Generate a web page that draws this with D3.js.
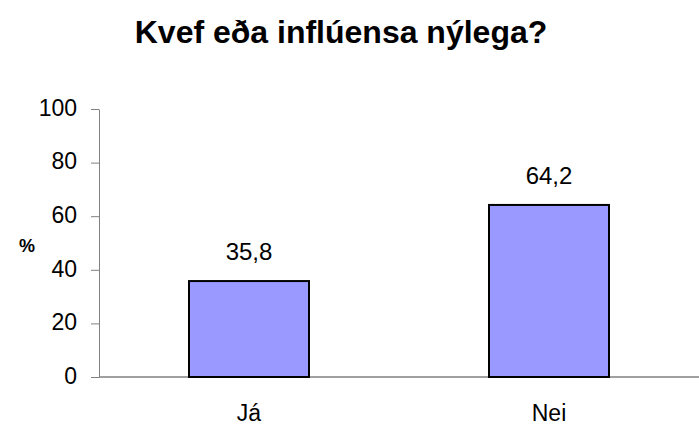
<!DOCTYPE html>
<html>
<head>
<meta charset="utf-8">
<script src="https://cdn.jsdelivr.net/npm/d3@7"></script>
<style>
  body { margin: 0; background: #fff; }
  text { font-family: "Liberation Sans", Arial, sans-serif; }
</style>
</head>
<body>
<div id="chart"></div>
<script>
// data
const categories = ["Já", "Nei"];
const values = [35.8, 64.2];
const yTicks = [0, 20, 40, 60, 80, 100];
const title = "Kvef eða inflúensa nýlega?";
const yLabel = "%";

const W = 699, H = 439;
const margin = {top: 109, right: 0, bottom: 62, left: 99};
const width = W - margin.left - margin.right;
const height = H - margin.top - margin.bottom;

const svg = d3.select("#chart").append("svg")
    .attr("width", W)
    .attr("height", H);

const g = svg.append("g")
    .attr("transform", "translate(" + margin.left + "," + margin.top + ")");

const x = d3.scaleBand()
    .domain(categories)
    .range([0, width])
    .paddingInner(0.6)
    .paddingOuter(0.3);

const y = d3.scaleLinear()
    .domain([0, 100])
    .range([height, 0]);

// title
svg.append("text")
    .attr("x", 341)
    .attr("y", 43)
    .attr("text-anchor", "middle")
    .style("font-size", "32px")
    .style("font-weight", "bold")
    .text(title);

// y axis
const yAxis = g.append("g")
    .call(d3.axisLeft(y).tickValues(yTicks).tickSize(8).tickPadding(14).tickSizeOuter(0));
yAxis.select(".domain").attr("stroke", "#808080");
yAxis.selectAll(".tick line").attr("stroke", "#808080");
yAxis.selectAll(".tick text")
    .style("font-size", "23px")
    .attr("fill", "#000")
    .attr("dy", "0.27em");

// x axis line
g.append("line")
    .attr("x1", 0).attr("x2", width)
    .attr("y1", height).attr("y2", height)
    .attr("stroke", "#808080")
    .attr("stroke-width", 1.5);

// bars
g.selectAll(".bar")
    .data(values)
    .enter().append("rect")
    .attr("class", "bar")
    .attr("x", (d, i) => x(categories[i]))
    .attr("y", d => y(d))
    .attr("width", x.bandwidth())
    .attr("height", d => height - y(d))
    .attr("fill", "#9999FF")
    .attr("stroke", "#000")
    .attr("stroke-width", 2);

// value labels
g.selectAll(".val")
    .data(values)
    .enter().append("text")
    .attr("class", "val")
    .attr("x", (d, i) => x(categories[i]) + x.bandwidth() / 2)
    .attr("y", d => y(d) - 21)
    .attr("text-anchor", "middle")
    .style("font-size", "24px")
    .text(d => d.toString().replace(".", ","));

// category labels
g.selectAll(".cat")
    .data(categories)
    .enter().append("text")
    .attr("class", "cat")
    .attr("x", d => x(d) + x.bandwidth() / 2)
    .attr("y", height + 44)
    .attr("text-anchor", "middle")
    .style("font-size", "23px")
    .text(d => d);

// y label
svg.append("text")
    .attr("x", 27)
    .attr("y", 252)
    .attr("text-anchor", "middle")
    .style("font-size", "18px")
    .style("font-weight", "bold")
    .text(yLabel);
</script>
</body>
</html>
